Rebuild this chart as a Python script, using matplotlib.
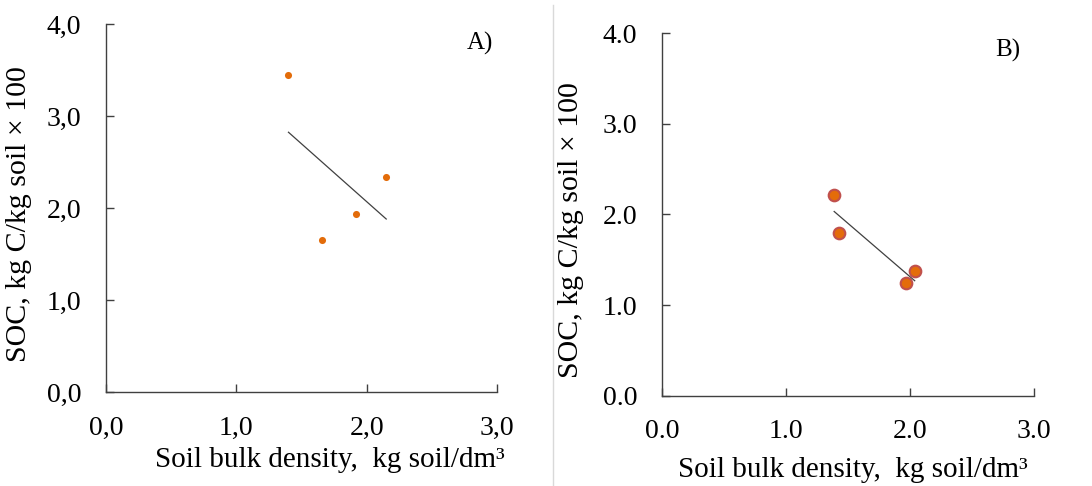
import numpy as np
import matplotlib
matplotlib.use('Agg')
import matplotlib.pyplot as plt
from matplotlib.lines import Line2D

plt.rcParams['font.family'] = ['Liberation Serif', 'DejaVu Serif']

# panel A data
density_a = [1.40, 1.66, 1.92, 2.15]
soc_a = [3.45, 1.65, 1.93, 2.34]
# panel B data
density_b = [1.39, 1.43, 1.97, 2.04]
soc_b = [2.22, 1.80, 1.24, 1.38]

xticks = [0.0, 1.0, 2.0, 3.0]
yticks = [0.0, 1.0, 2.0, 3.0, 4.0]
ylab = 'SOC, kg C/kg soil \u00d7 100'
xlab = 'Soil bulk density,  kg soil/dm\u00b3'

fig = plt.figure(figsize=(10.92, 4.86), dpi=100)

def setup(ax, sep, xl_pos, yl_pos):
    ax.set_xlim(0, 3)
    ax.set_ylim(0, 4)
    for s in ['top', 'right']:
        ax.spines[s].set_visible(False)
    for s in ['left', 'bottom']:
        ax.spines[s].set_color('#404040')
        ax.spines[s].set_linewidth(1.0)
    ax.set_xticks(xticks)
    ax.set_yticks(yticks)
    ax.set_xticklabels([('%.1f' % v).replace('.', sep) for v in xticks])
    ax.set_yticklabels([('%.1f' % v).replace('.', sep) for v in yticks])
    ax.tick_params(direction='in', length=6, width=1.0, color='#404040',
                   labelsize=20, pad=18)
    ax.tick_params(axis='x', pad=17)
    ax.set_xlabel(xlab, fontsize=21)
    ax.set_ylabel(ylab, fontsize=21.5)
    ax.xaxis.set_label_coords(*xl_pos)
    ax.yaxis.set_label_coords(*yl_pos)

def trend(ax, x, y):
    k, b = np.polyfit(x, y, 1)
    xs = np.array([min(x), max(x)])
    ax.plot(xs, k * xs + b, color='#404040', lw=0.9, zorder=2)

# panel A
ax1 = fig.add_axes([106/1092, 1-392/486, 391/1092, 368/486])
setup(ax1, ',', (0.573, -0.15), (-0.19, 0.484))
ax1.scatter(density_a, soc_a, s=26, color='#E36C0A', zorder=3, linewidths=0)
trend(ax1, density_a, soc_a)
ax1.text(480/1092, 1-43/486, 'A)', transform=fig.transFigure, fontsize=18,
         ha='center', va='center')

# panel B
ax2 = fig.add_axes([662/1092, 1-395.7/486, 371.6/1092, 362.4/486])
setup(ax2, '.', (0.514, -0.168), (-0.21, 0.457))
ax2.scatter(density_b, soc_b, s=70, color='#E46C0A', edgecolors='#C0504D',
            linewidths=1.5, zorder=3)
trend(ax2, density_b, soc_b)
ax2.text(1008/1092, 1-50/486, 'B)', transform=fig.transFigure, fontsize=18,
         ha='center', va='center')

# divider
fig.add_artist(Line2D([553/1092, 553/1092], [0, 1-5/486], transform=fig.transFigure,
                      color='#d9d9d9', lw=1.0))

fig.savefig('out.png', dpi=100)
